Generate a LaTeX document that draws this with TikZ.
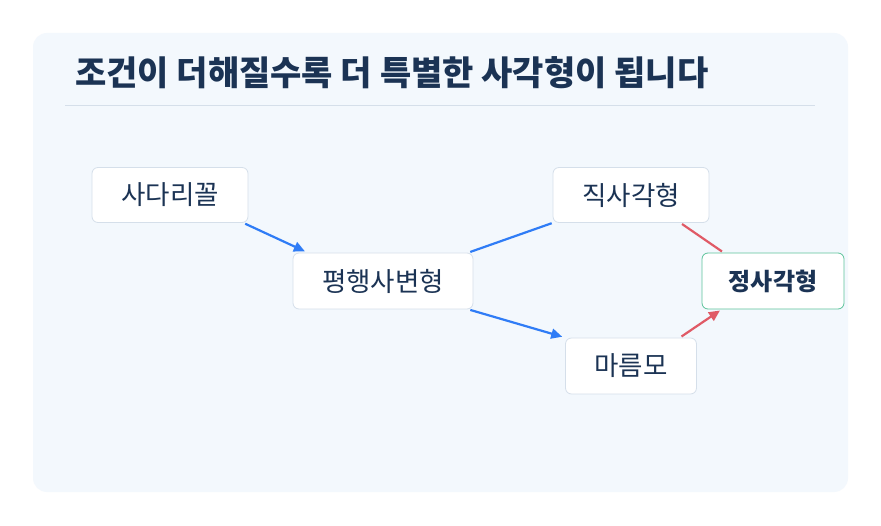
\documentclass[tikz,border=0pt]{standalone}
\usepackage{fontspec}
\setmainfont{Noto Sans CJK KR}
\usetikzlibrary{arrows.meta}
\definecolor{panel}{HTML}{F3F8FD}
\definecolor{navy}{HTML}{1B3354}
\definecolor{bord}{HTML}{D5DFEA}
\definecolor{blu}{HTML}{2F7CF6}
\definecolor{rd}{HTML}{E05A66}
\definecolor{grn}{HTML}{5CC39A}
\begin{document}
\begin{tikzpicture}[x=1pt,y=-1pt,
  box/.style={draw=bord,fill=white,rounded corners=6pt,line width=0.8pt,font=\fontsize{26.5}{30}\selectfont,text=navy,inner sep=0pt},
  bl/.style={draw=blu,line width=2.2pt},
  rl/.style={draw=rd,line width=2.2pt},
  tip/.style={-{Triangle[length=11pt,width=10pt]}}]
\useasboundingbox (0,0) rectangle (881,526);
\fill[white] (0,0) rectangle (881,526);
\fill[panel,rounded corners=14pt] (33,33) rectangle (848,492);
\node[anchor=west,font=\fontsize{34}{38}\selectfont\bfseries,text=navy,inner sep=0pt] (t) at (75,73) {조건이 더해질수록 더 특별한 사각형이 됩니다};
\draw[bord,line width=0.8pt] (65,105) -- (815,105);
\node[box,minimum width=156pt,minimum height=55pt] (a) at (170,195) {사다리꼴};
\node[box,minimum width=180pt,minimum height=56pt] (b) at (383,281) {평행사변형};
\node[box,minimum width=156pt,minimum height=55pt] (c) at (631,195) {직사각형};
\node[box,minimum width=131pt,minimum height=56pt] (d) at (631,366) {마름모};
\node[box,draw=grn,minimum width=142pt,minimum height=56pt,font=\fontsize{24}{28}\selectfont\bfseries] (e) at (773,281) {정사각형};
\draw[bl,tip,shorten <=2pt,shorten >=3pt] ([xshift=-5pt]a.south east) -- ([xshift=15pt]b.north west);
\draw[bl,shorten <=2pt,shorten >=1pt] ([xshift=-5pt]b.north east) -- (c.south west);
\draw[bl,tip,shorten <=2pt,shorten >=3pt] ([xshift=-5pt]b.south east) -- (d.north west);
\draw[rl,shorten <=2pt,shorten >=2pt] ([xshift=-29pt]c.south east) -- ([xshift=22pt]e.north west);
\draw[rl,tip,shorten <=2pt,shorten >=2pt] ([xshift=-17pt]d.north east) -- ([xshift=20pt]e.south west);
\end{tikzpicture}
\end{document}
